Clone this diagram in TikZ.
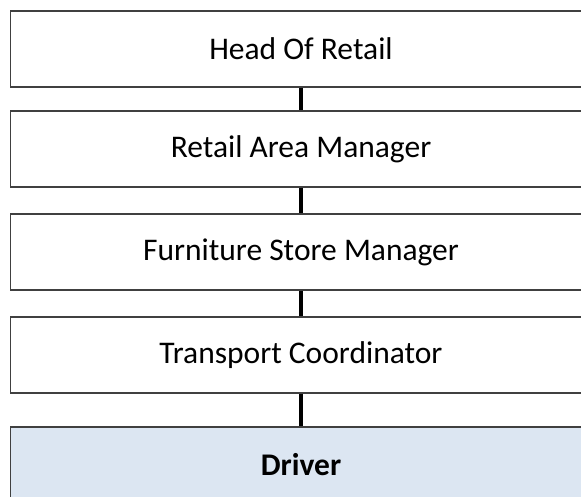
\documentclass[tikz,border=0pt]{standalone}
\usepackage{fontspec}
\setmainfont{Carlito}
\usetikzlibrary{positioning}
\definecolor{drvfill}{HTML}{DCE6F2}
\definecolor{boxline}{HTML}{404040}

\begin{document}
\begin{tikzpicture}[x=1pt, y=1pt,
        post/.style={draw=boxline, line width=1.3pt, rectangle, minimum width=581pt,
            minimum height=76pt, inner sep=0pt, font=\fontsize{31.5}{36}\selectfont},
        link/.style={draw=black, line width=4pt}]
        \clip (0,0) rectangle (581,-497);

        \node[post] (P1) at (301,-49) {Head Of Retail};
        \node[post, below=22.7pt of P1] (P2) {Retail Area Manager};
        \node[post, below=25.7pt of P2] (P3) {Furniture Store Manager};
        \node[post, below=25.7pt of P3] (P4) {Transport Coordinator};
        \node[post, fill=drvfill, below=32.7pt of P4] (P5) {\textbf{Driver}};

        \draw[link] (P1.south) -- (P2.north);
        \draw[link] (P2.south) -- (P3.north);
        \draw[link] (P3.south) -- (P4.north);
        \draw[link] (P4.south) -- (P5.north);

    \end{tikzpicture}
\end{document}
